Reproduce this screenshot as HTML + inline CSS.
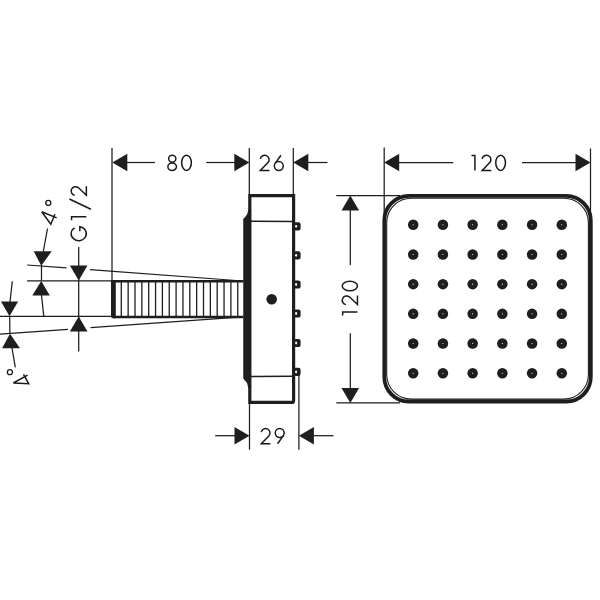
<!DOCTYPE html>
<html><head><meta charset="utf-8"><style>
html,body{margin:0;padding:0;background:#fff;}
svg{display:block;}
body{font-family:"Liberation Sans",sans-serif;}
</style></head><body>
<svg width="600" height="600" viewBox="0 0 600 600">
<rect width="600" height="600" fill="#fff"/>
<g fill="#1e1e1e" stroke="#1e1e1e" stroke-width="0">
<line x1="112.00" y1="148.00" x2="112.00" y2="281.00" stroke-width="1.25"/>
<line x1="249.30" y1="148.00" x2="249.30" y2="195.00" stroke-width="1.25"/>
<line x1="293.30" y1="148.00" x2="293.30" y2="195.00" stroke-width="1.25"/>
<polygon points="112.30,162.50 127.30,153.70 127.30,171.30"/>
<line x1="126.00" y1="162.50" x2="155.00" y2="162.50" stroke-width="1.25"/>
<line x1="206.25" y1="162.50" x2="235.00" y2="162.50" stroke-width="1.25"/>
<polygon points="249.30,162.50 234.30,153.70 234.30,171.30"/>
<polygon points="293.30,162.50 308.30,153.70 308.30,171.30"/>
<line x1="308.00" y1="162.50" x2="327.50" y2="162.50" stroke-width="1.25"/>
<line x1="384.20" y1="147.50" x2="384.20" y2="220.00" stroke-width="1.25"/>
<line x1="590.50" y1="148.50" x2="590.50" y2="380.00" stroke-width="1.25"/>
<polygon points="384.20,162.50 399.20,153.70 399.20,171.30"/>
<line x1="398.00" y1="162.50" x2="453.30" y2="162.50" stroke-width="1.25"/>
<line x1="522.00" y1="162.50" x2="577.00" y2="162.50" stroke-width="1.25"/>
<polygon points="590.50,162.50 575.50,153.70 575.50,171.30"/>
<line x1="336.30" y1="195.60" x2="400.00" y2="195.60" stroke-width="1.25"/>
<line x1="336.30" y1="402.90" x2="400.00" y2="402.90" stroke-width="1.25"/>
<polygon points="350.30,195.60 341.50,210.60 359.10,210.60"/>
<line x1="350.30" y1="210.00" x2="350.30" y2="265.00" stroke-width="1.25"/>
<line x1="350.30" y1="333.30" x2="350.30" y2="388.00" stroke-width="1.25"/>
<polygon points="350.30,402.90 341.50,387.90 359.10,387.90"/>
<line x1="249.50" y1="403.00" x2="249.50" y2="449.70" stroke-width="1.25"/>
<line x1="298.90" y1="375.00" x2="298.90" y2="449.70" stroke-width="1.25"/>
<line x1="215.20" y1="435.70" x2="235.00" y2="435.70" stroke-width="1.25"/>
<polygon points="249.50,435.70 234.50,426.90 234.50,444.50"/>
<polygon points="298.90,435.70 313.90,426.90 313.90,444.50"/>
<line x1="313.50" y1="435.70" x2="333.50" y2="435.70" stroke-width="1.25"/>
<line x1="78.70" y1="247.00" x2="78.70" y2="351.50" stroke-width="1.25"/>
<line x1="27.10" y1="280.80" x2="112.00" y2="280.80" stroke-width="1.25"/>
<line x1="0.00" y1="316.40" x2="112.00" y2="316.40" stroke-width="1.25"/>
<polygon points="78.70,280.60 69.90,265.60 87.50,265.60"/>
<polygon points="78.70,316.50 69.90,331.50 87.50,331.50"/>
<line x1="27.10" y1="265.00" x2="66.50" y2="267.92" stroke-width="1.25"/>
<line x1="90.00" y1="269.66" x2="243.00" y2="281.00" stroke-width="1.25"/>
<line x1="0.00" y1="334.10" x2="68.00" y2="329.31" stroke-width="1.25"/>
<line x1="90.50" y1="327.73" x2="243.00" y2="316.99" stroke-width="1.25"/>
<line x1="47.50" y1="228.50" x2="43.30" y2="251.50" stroke-width="1.25"/>
<polygon points="41.25,265.80 33.75,251.25 51.70,251.25"/>
<line x1="41.50" y1="265.00" x2="41.50" y2="281.00" stroke-width="1.25"/>
<polygon points="41.25,281.00 32.30,295.40 49.80,295.40"/>
<line x1="41.50" y1="295.00" x2="43.75" y2="316.40" stroke-width="1.25"/>
<line x1="12.30" y1="281.30" x2="10.00" y2="302.00" stroke-width="1.25"/>
<polygon points="9.50,316.20 1.00,301.50 18.10,301.50"/>
<line x1="9.70" y1="316.00" x2="9.90" y2="334.00" stroke-width="1.25"/>
<polygon points="10.00,333.70 2.10,348.30 20.00,348.30"/>
<line x1="12.00" y1="348.00" x2="15.30" y2="367.30" stroke-width="1.25"/>
<line x1="113.00" y1="281.30" x2="243.50" y2="281.30" stroke-width="2.50"/>
<line x1="113.00" y1="317.00" x2="243.50" y2="317.00" stroke-width="2.50"/>
<path d="M111,280 L115.8,280 L115.8,318.3 L113,318.3 Q111,318.3 111,316.3 Z"/>
<line x1="121.30" y1="282.00" x2="121.30" y2="316.00" stroke-width="1.30"/>
<line x1="128.15" y1="282.00" x2="128.15" y2="316.00" stroke-width="1.30"/>
<line x1="135.00" y1="282.00" x2="135.00" y2="316.00" stroke-width="1.30"/>
<line x1="141.85" y1="282.00" x2="141.85" y2="316.00" stroke-width="1.30"/>
<line x1="148.70" y1="282.00" x2="148.70" y2="316.00" stroke-width="1.30"/>
<line x1="155.55" y1="282.00" x2="155.55" y2="316.00" stroke-width="1.30"/>
<line x1="162.40" y1="282.00" x2="162.40" y2="316.00" stroke-width="1.30"/>
<line x1="169.25" y1="282.00" x2="169.25" y2="316.00" stroke-width="1.30"/>
<line x1="176.10" y1="282.00" x2="176.10" y2="316.00" stroke-width="1.30"/>
<line x1="182.95" y1="282.00" x2="182.95" y2="316.00" stroke-width="1.30"/>
<line x1="189.80" y1="282.00" x2="189.80" y2="316.00" stroke-width="1.30"/>
<line x1="196.65" y1="282.00" x2="196.65" y2="316.00" stroke-width="1.30"/>
<line x1="203.50" y1="282.00" x2="203.50" y2="316.00" stroke-width="1.30"/>
<line x1="210.35" y1="282.00" x2="210.35" y2="316.00" stroke-width="1.30"/>
<line x1="217.20" y1="282.00" x2="217.20" y2="316.00" stroke-width="1.30"/>
<line x1="224.05" y1="282.00" x2="224.05" y2="316.00" stroke-width="1.30"/>
<line x1="230.90" y1="282.00" x2="230.90" y2="316.00" stroke-width="1.30"/>
<line x1="237.75" y1="282.00" x2="237.75" y2="316.00" stroke-width="1.30"/>
<path d="M249.8,195.7 L293.6,195.7 L293.6,400.4 Q293.6,402.4 291.6,402.4 L249.8,402.4 Z" fill="none" stroke-width="3.2"/>
<path d="M248.2,210 Q247.6,215.5 243.25,218.8 L243.25,378.5 L247.2,383.3 L248.2,388 L251.1,388 L251.1,210 Z"/>
<line x1="251.00" y1="221.20" x2="292.00" y2="221.60" stroke-width="1.50"/>
<line x1="251.00" y1="376.60" x2="292.00" y2="376.20" stroke-width="1.50"/>
<circle cx="271.7" cy="299.3" r="5.3"/>
<rect x="293.5" y="222.20" width="7.1" height="8.2" rx="2.2"/>
<ellipse cx="296.1" cy="226.30" rx="1.0" ry="1.4" fill="#fff"/>
<rect x="293.5" y="251.20" width="7.1" height="8.2" rx="2.2"/>
<ellipse cx="296.1" cy="255.30" rx="1.0" ry="1.4" fill="#fff"/>
<rect x="293.5" y="280.40" width="7.1" height="8.2" rx="2.2"/>
<ellipse cx="296.1" cy="284.50" rx="1.0" ry="1.4" fill="#fff"/>
<rect x="293.5" y="309.40" width="7.1" height="8.2" rx="2.2"/>
<ellipse cx="296.1" cy="313.50" rx="1.0" ry="1.4" fill="#fff"/>
<rect x="293.5" y="338.90" width="7.1" height="8.2" rx="2.2"/>
<ellipse cx="296.1" cy="343.00" rx="1.0" ry="1.4" fill="#fff"/>
<rect x="293.5" y="367.80" width="7.1" height="8.2" rx="2.2"/>
<ellipse cx="296.1" cy="371.90" rx="1.0" ry="1.4" fill="#fff"/>
<rect x="384.3" y="195.9" width="206.5" height="205.6" rx="24.5" fill="none" stroke="#1e1e1e" stroke-width="3.8"/>
<rect x="386.7" y="198.3" width="201.7" height="200.8" rx="24.5" fill="none" stroke="#1e1e1e" stroke-width="1.1"/>
<circle cx="413.20" cy="224.80" r="5.25"/><circle cx="413.20" cy="224.80" r="0.55" fill="#fff"/>
<circle cx="442.92" cy="224.80" r="5.25"/><circle cx="442.92" cy="224.80" r="0.55" fill="#fff"/>
<circle cx="472.64" cy="224.80" r="5.25"/><circle cx="472.64" cy="224.80" r="0.55" fill="#fff"/>
<circle cx="502.36" cy="224.80" r="5.25"/><circle cx="502.36" cy="224.80" r="0.55" fill="#fff"/>
<circle cx="532.08" cy="224.80" r="5.25"/><circle cx="532.08" cy="224.80" r="0.55" fill="#fff"/>
<circle cx="561.80" cy="224.80" r="5.25"/><circle cx="561.80" cy="224.80" r="0.55" fill="#fff"/>
<circle cx="413.20" cy="254.48" r="5.25"/><circle cx="413.20" cy="254.48" r="0.55" fill="#fff"/>
<circle cx="442.92" cy="254.48" r="5.25"/><circle cx="442.92" cy="254.48" r="0.55" fill="#fff"/>
<circle cx="472.64" cy="254.48" r="5.25"/><circle cx="472.64" cy="254.48" r="0.55" fill="#fff"/>
<circle cx="502.36" cy="254.48" r="5.25"/><circle cx="502.36" cy="254.48" r="0.55" fill="#fff"/>
<circle cx="532.08" cy="254.48" r="5.25"/><circle cx="532.08" cy="254.48" r="0.55" fill="#fff"/>
<circle cx="561.80" cy="254.48" r="5.25"/><circle cx="561.80" cy="254.48" r="0.55" fill="#fff"/>
<circle cx="413.20" cy="284.16" r="5.25"/><circle cx="413.20" cy="284.16" r="0.55" fill="#fff"/>
<circle cx="442.92" cy="284.16" r="5.25"/><circle cx="442.92" cy="284.16" r="0.55" fill="#fff"/>
<circle cx="472.64" cy="284.16" r="5.25"/><circle cx="472.64" cy="284.16" r="0.55" fill="#fff"/>
<circle cx="502.36" cy="284.16" r="5.25"/><circle cx="502.36" cy="284.16" r="0.55" fill="#fff"/>
<circle cx="532.08" cy="284.16" r="5.25"/><circle cx="532.08" cy="284.16" r="0.55" fill="#fff"/>
<circle cx="561.80" cy="284.16" r="5.25"/><circle cx="561.80" cy="284.16" r="0.55" fill="#fff"/>
<circle cx="413.20" cy="313.84" r="5.25"/><circle cx="413.20" cy="313.84" r="0.55" fill="#fff"/>
<circle cx="442.92" cy="313.84" r="5.25"/><circle cx="442.92" cy="313.84" r="0.55" fill="#fff"/>
<circle cx="472.64" cy="313.84" r="5.25"/><circle cx="472.64" cy="313.84" r="0.55" fill="#fff"/>
<circle cx="502.36" cy="313.84" r="5.25"/><circle cx="502.36" cy="313.84" r="0.55" fill="#fff"/>
<circle cx="532.08" cy="313.84" r="5.25"/><circle cx="532.08" cy="313.84" r="0.55" fill="#fff"/>
<circle cx="561.80" cy="313.84" r="5.25"/><circle cx="561.80" cy="313.84" r="0.55" fill="#fff"/>
<circle cx="413.20" cy="343.52" r="5.25"/><circle cx="413.20" cy="343.52" r="0.55" fill="#fff"/>
<circle cx="442.92" cy="343.52" r="5.25"/><circle cx="442.92" cy="343.52" r="0.55" fill="#fff"/>
<circle cx="472.64" cy="343.52" r="5.25"/><circle cx="472.64" cy="343.52" r="0.55" fill="#fff"/>
<circle cx="502.36" cy="343.52" r="5.25"/><circle cx="502.36" cy="343.52" r="0.55" fill="#fff"/>
<circle cx="532.08" cy="343.52" r="5.25"/><circle cx="532.08" cy="343.52" r="0.55" fill="#fff"/>
<circle cx="561.80" cy="343.52" r="5.25"/><circle cx="561.80" cy="343.52" r="0.55" fill="#fff"/>
<circle cx="413.20" cy="373.20" r="5.25"/><circle cx="413.20" cy="373.20" r="0.55" fill="#fff"/>
<circle cx="442.92" cy="373.20" r="5.25"/><circle cx="442.92" cy="373.20" r="0.55" fill="#fff"/>
<circle cx="472.64" cy="373.20" r="5.25"/><circle cx="472.64" cy="373.20" r="0.55" fill="#fff"/>
<circle cx="502.36" cy="373.20" r="5.25"/><circle cx="502.36" cy="373.20" r="0.55" fill="#fff"/>
<circle cx="532.08" cy="373.20" r="5.25"/><circle cx="532.08" cy="373.20" r="0.55" fill="#fff"/>
<circle cx="561.80" cy="373.20" r="5.25"/><circle cx="561.80" cy="373.20" r="0.55" fill="#fff"/>
</g>
<g>
<g transform="translate(167.85 170.40)" fill="none" stroke="#1a1a1a" stroke-width="1.50"><g transform="translate(0.00 0)"><ellipse cx="4.4" cy="-11.7" rx="3.6" ry="3.45"/><ellipse cx="4.3" cy="-3.65" rx="4.3" ry="3.65"/></g><g transform="translate(13.80 0)"><ellipse cx="4.85" cy="-7.6" rx="4.85" ry="7.6"/></g></g>
<g transform="translate(260.20 170.40)" fill="none" stroke="#1a1a1a" stroke-width="1.50"><g transform="translate(0.00 0)"><path d="M0.17,-11.56 A4.40,4.40 0 1 1 7.97,-8.09 L0.2,0 H9.3"/></g><g transform="translate(13.95 0)"><circle cx="4.65" cy="-4.45" r="4.45"/><path d="M6.80,-15.20 L1.02,-7.02"/></g></g>
<g transform="translate(471.50 170.40)" fill="none" stroke="#1a1a1a" stroke-width="1.50"><g transform="translate(0.00 0)"><path d="M0,-14.8 H3.4 V0"/></g><g transform="translate(10.50 0)"><path d="M0.17,-11.56 A4.40,4.40 0 1 1 7.97,-8.09 L0.2,0 H9.3"/></g><g transform="translate(24.25 0)"><ellipse cx="4.85" cy="-7.6" rx="4.85" ry="7.6"/></g></g>
<g transform="translate(261.10 443.75)" fill="none" stroke="#1a1a1a" stroke-width="1.50"><g transform="translate(0.00 0)"><path d="M0.17,-11.56 A4.40,4.40 0 1 1 7.97,-8.09 L0.2,0 H9.3"/></g><g transform="translate(13.95 0)"><circle cx="4.65" cy="-10.75" r="4.45"/><path d="M2.50,0.00 L8.28,-8.18"/></g></g>
<g transform="translate(357.45 315.40) rotate(-90.00)" fill="none" stroke="#1a1a1a" stroke-width="1.50"><g transform="translate(0.00 0)"><path d="M0,-14.8 H3.4 V0"/></g><g transform="translate(10.60 0)"><path d="M0.17,-11.56 A4.40,4.40 0 1 1 7.97,-8.09 L0.2,0 H9.3"/></g><g transform="translate(24.55 0)"><ellipse cx="4.85" cy="-7.6" rx="4.85" ry="7.6"/></g></g>
<g transform="translate(86.35 240.85) rotate(-90.00)" fill="none" stroke="#1a1a1a" stroke-width="1.50"><g transform="translate(0.00 0)"><path d="M13.07,-11.74 A7.00,7.60 0 1 0 14.13,-6.54 H9.55"/></g><g transform="translate(20.70 0)"><path d="M0,-14.8 H3.4 V0"/></g><g transform="translate(45.30 0)"><path d="M0.17,-11.56 A4.40,4.40 0 1 1 7.97,-8.09 L0.2,0 H9.3"/></g></g>
<line x1="90.90" y1="209.20" x2="69.40" y2="199.00" stroke="#1a1a1a" stroke-width="1.5"/>
<path d="M41.7,211.8 L56.7,217.9 M41.7,211.8 L50.8,224.2 L54.9,214.3" fill="none" stroke="#1a1a1a" stroke-width="1.5" stroke-linejoin="miter"/>
<path d="M13.3,383 L27.6,375.2 M13.3,383 L28.7,383.7 L23.5,374.4" fill="none" stroke="#1a1a1a" stroke-width="1.5"/>
<circle cx="48.30" cy="202.90" r="2.5" fill="none" stroke="#1a1a1a" stroke-width="1.3"/>
<circle cx="9.90" cy="372.20" r="2.5" fill="none" stroke="#1a1a1a" stroke-width="1.3"/>
</g>
</svg>
</body></html>
